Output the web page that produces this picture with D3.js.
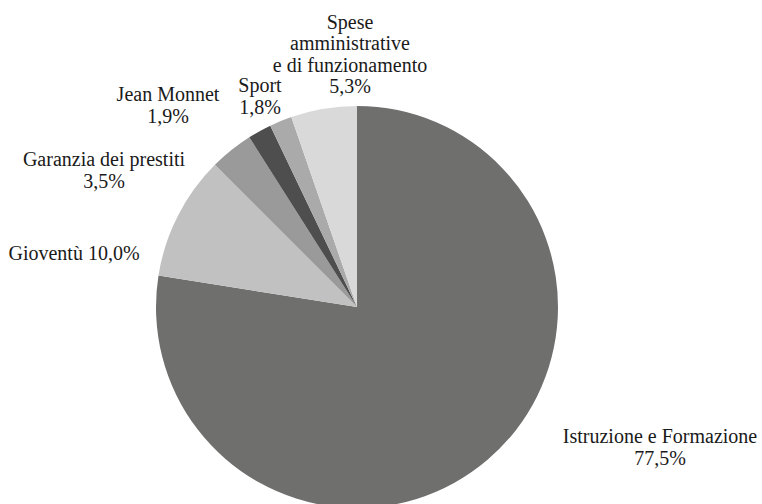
<!DOCTYPE html>
<html>
<head>
<meta charset="utf-8">
<script src="https://d3js.org/d3.v7.min.js"></script>
<style>
  body { margin: 0; background: #fff; }
</style>
</head>
<body>
<div id="chart"></div>
<script>
var svgWidth = 762;
var svgHeight = 504;

// data
var categories = ["Istruzione e Formazione", "Gioventù", "Garanzia dei prestiti", "Jean Monnet", "Sport", "Spese amministrative e di funzionamento"];
var shares = [77.5, 10.0, 3.5, 1.9, 1.8, 5.3];

// how each label is split into lines (last line holds the value)
var labelLines = [
    ["Istruzione e Formazione", "{v}"],
    ["Gioventù {v}"],
    ["Garanzia dei prestiti", "{v}"],
    ["Jean Monnet", "{v}"],
    ["Sport", "{v}"],
    ["Spese", "amministrative", "e di funzionamento", "{v}"]
];

// layout / styles
var sliceColors = ["#6f706e", "#c0c1c0", "#999a99", "#4e4e4e", "#aaaaaa", "#d8d9d8"];
var labelPos = [[660, 443], [74, 260], [104, 166], [168, 101], [260, 92], [350, 28.5]];
var lineGap = 21.6;
var fontStack = "'Liberation Serif', 'Times New Roman', 'DejaVu Serif', serif";

var cx = 357, cy = 307, radius = 201;

var svg = d3.select("#chart").append("svg")
    .attr("width", svgWidth)
    .attr("height", svgHeight);

var pieGroup = svg.append("g")
    .attr("transform", `translate(${cx}, ${cy})`);

var pie = d3.pie().sort(null).value(d => d);
var arc = d3.arc().innerRadius(0).outerRadius(radius);

pieGroup.selectAll("path")
    .data(pie(shares))
    .enter()
    .append("path")
    .attr("d", arc)
    .attr("fill", (d, i) => sliceColors[i]);

var fmt = v => d3.format(".1f")(v).replace(".", ",") + "%";

categories.forEach(function(cat, i) {
    var t = svg.append("text")
        .attr("text-anchor", "middle")
        .attr("font-family", fontStack)
        .attr("font-size", 20)
        .attr("fill", "#1a1a1a");
    labelLines[i].forEach(function(line, j) {
        t.append("tspan")
            .attr("x", labelPos[i][0])
            .attr("y", labelPos[i][1] + j * lineGap)
            .text(line.replace("{v}", fmt(shares[i])));
    });
});
</script>
</body>
</html>
